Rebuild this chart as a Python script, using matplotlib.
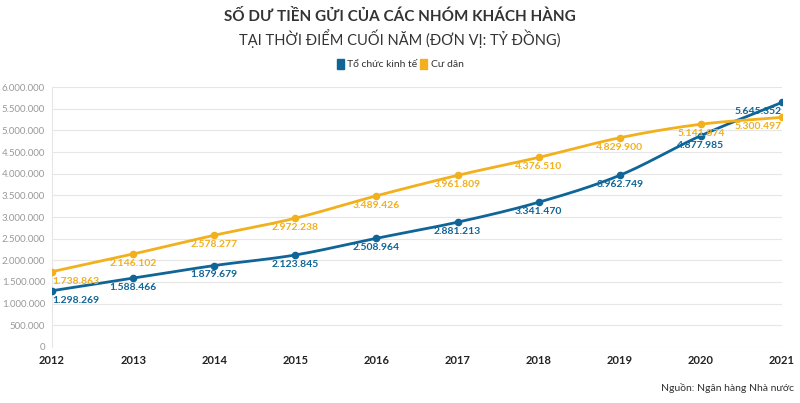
import matplotlib
matplotlib.use('Agg')
import matplotlib.pyplot as plt
from matplotlib.patches import Patch
import numpy as np

# Dữ liệu (tỷ đồng)
years = [2012, 2013, 2014, 2015, 2016, 2017, 2018, 2019, 2020, 2021]
to_chuc = [1298269, 1588466, 1879679, 2123845, 2508964, 2881213, 3341470, 3962749, 4877985, 5645352]
cu_dan = [1738863, 2146102, 2578277, 2972238, 3489426, 3961809, 4376510, 4829900, 5141874, 5300497]
series_names = ['Tổ chức kinh tế', 'Cư dân']
yticks = np.arange(0, 6000001, 500000)

BLUE = '#0f6597'
ORANGE = '#f2b01c'

plt.rcParams['font.family'] = ['Lato', 'DejaVu Sans']


def fmt(v):
    return f"{v:,.0f}".replace(',', '.')


def smooth(x, y, n=30):
    # duong cong Hermite de ve cho muot
    x = np.asarray(x, float)
    y = np.asarray(y, float)
    m = np.gradient(y, x)
    xs, ys = [], []
    for i in range(len(x) - 1):
        h = x[i + 1] - x[i]
        t = np.linspace(0, 1, n)
        h00 = 2 * t**3 - 3 * t**2 + 1
        h10 = t**3 - 2 * t**2 + t
        h01 = -2 * t**3 + 3 * t**2
        h11 = t**3 - t**2
        xs.append(x[i] + t * h)
        ys.append(h00 * y[i] + h10 * h * m[i] + h01 * y[i + 1] + h11 * h * m[i + 1])
    return np.concatenate(xs), np.concatenate(ys)


fig = plt.figure(figsize=(8, 4.03), dpi=100)
ax = fig.add_axes([0.065, 0.139, 0.9125, 0.645])

for vals, color in [(to_chuc, BLUE), (cu_dan, ORANGE)]:
    sx, sy = smooth(years, vals)
    ax.plot(sx, sy, color=color, lw=2, zorder=3, solid_capstyle='round')
    ax.scatter(years, vals, s=20, color=color, zorder=4)
    for i, (x, v) in enumerate(zip(years, vals)):
        ha = 'center'
        if i == 0:
            ha = 'left'
        elif i == len(years) - 1:
            ha = 'right'
        ax.annotate(fmt(v), (x, v), xytext=(0, -3.5), textcoords='offset points',
                    ha=ha, va='top', fontsize=7.5, fontweight='bold', color=color, zorder=5)

ax.set_xlim(years[0], years[-1])
ax.set_ylim(0, 6000000)
ax.set_yticks(yticks)
ax.set_yticklabels([fmt(v) for v in yticks])
ax.set_xticks(years)
ax.set_xticklabels([str(y) for y in years])
ax.grid(axis='y', color='#e6e6e6', lw=0.8)
ax.set_axisbelow(True)
for s in ['top', 'right', 'bottom']:
    ax.spines[s].set_visible(False)
ax.spines['left'].set_color('#e6e6e6')
ax.tick_params(axis='y', length=0, labelsize=7, labelcolor='#999999', pad=5)
ax.tick_params(axis='x', length=0, labelsize=8, pad=6)
for lab in ax.get_xticklabels():
    lab.set_fontweight('bold')
    lab.set_color('#222222')

fig.text(0.5, 0.958, 'SỐ DƯ TIỀN GỬI CỦA CÁC NHÓM KHÁCH HÀNG', ha='center', va='center',
         fontsize=11, fontweight='bold', color='#333333')
fig.text(0.5, 0.905, 'TẠI THỜI ĐIỂM CUỐI NĂM (ĐƠN VỊ: TỶ ĐỒNG)', ha='center', va='center',
         fontsize=10.5, color='#333333')

# chu giai
handles = [Patch(color=BLUE), Patch(color=ORANGE)]
fig.legend(handles, series_names, loc='center', bbox_to_anchor=(0.5, 0.841), ncol=2,
           frameon=False, fontsize=7.5, handlelength=0.7, handleheight=1.1,
           handletextpad=0.3, columnspacing=0.3, labelcolor='#333333')

fig.text(0.993, 0.037, 'Nguồn: Ngân hàng Nhà nước', ha='right', va='center',
         fontsize=7.5, color='#333333')

fig.savefig('out.png', dpi=100)
